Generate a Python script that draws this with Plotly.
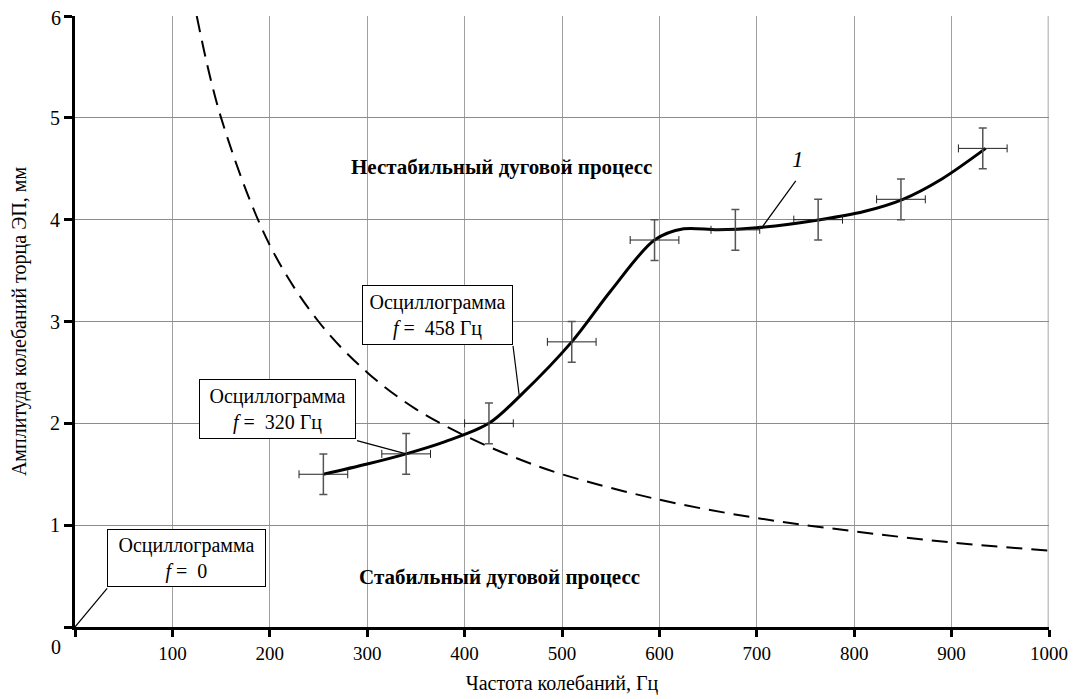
import plotly.graph_objects as go

# Experimental points (frequency, amplitude) with error bars
pt_x = [255, 340, 425, 510, 595, 678, 763, 848, 932]
pt_y = [1.5, 1.7, 2.0, 2.8, 3.8, 3.9, 4.0, 4.2, 4.7]
pt_err_y = [0.2, 0.2, 0.2, 0.2, 0.2, 0.2, 0.2, 0.2, 0.2]
pt_err_x = [25, 25, 25, 25, 25, 25, 25, 25, 25]

# Smooth experimental curve 1
curve_x = [255, 300, 340, 380, 425, 458, 510, 550, 595, 625, 660, 700, 765, 810, 850, 890, 935]
curve_y = [1.5, 1.6, 1.7, 1.82, 2.0, 2.28, 2.8, 3.3, 3.8, 3.91, 3.9, 3.92, 4.0, 4.08, 4.2, 4.4, 4.7]

# Stability boundary (dashed)
bound_x = [125, 150, 200, 250, 300, 350, 400, 450, 500, 600, 700, 800, 900, 1000]
bound_y = [6.0, 5.0, 3.75, 3.0, 2.5, 2.14, 1.88, 1.67, 1.5, 1.25, 1.07, 0.94, 0.83, 0.75]

x_ticks = [0, 100, 200, 300, 400, 500, 600, 700, 800, 900, 1000]
x_ticklabels = ["", "100", "200", "300", "400", "500", "600", "700", "800", "900", "1000"]
y_ticks = [0, 1, 2, 3, 4, 5, 6]
y_ticklabels = ["", "1", "2", "3", "4", "5", ""]

FONT = "Times New Roman, Liberation Serif, DejaVu Serif, serif"

fig = go.Figure()

fig.add_trace(go.Scatter(
    x=bound_x, y=bound_y, mode="lines",
    line=dict(color="black", width=2, dash="16px,9px", shape="spline", smoothing=1.0),
    hoverinfo="skip", showlegend=False))

fig.add_trace(go.Scatter(
    x=curve_x, y=curve_y, mode="lines",
    line=dict(color="black", width=3, shape="spline", smoothing=0.9),
    showlegend=False))

fig.add_trace(go.Scatter(
    x=pt_x, y=pt_y, mode="markers",
    marker=dict(size=1, color="rgba(0,0,0,0)"),
    error_y=dict(type="data", array=pt_err_y, color="#555555", thickness=1.5, width=4),
    error_x=dict(type="data", array=pt_err_x, color="#222222", thickness=1, width=4),
    showlegend=False))

box_style = dict(showarrow=False, bgcolor="white", bordercolor="black", borderwidth=1,
                 font=dict(family=FONT, size=20, color="black"), xref="x", yref="y")

annotations = [
    dict(x=114.5, y=0.675, text="Осциллограмма<br><i>f</i> =  0", width=155, height=54, **box_style),
    dict(x=207.5, y=2.145, text="Осциллограмма<br><i>f</i> =  320 Гц", width=153, height=56, **box_style),
    dict(x=372.5, y=3.065, text="Осциллограмма<br><i>f</i> =  458 Гц", width=147, height=56, **box_style),
    dict(x=438, y=4.52, text="<b>Нестабильный дуговой процесс</b>", showarrow=False,
         font=dict(family=FONT, size=21, color="black"), xref="x", yref="y"),
    dict(x=436, y=0.49, text="<b>Стабильный дуговой процесс</b>", showarrow=False,
         font=dict(family=FONT, size=21, color="black"), xref="x", yref="y"),
    dict(x=742, y=4.59, text="<i>1</i>", showarrow=False,
         font=dict(family=FONT, size=23, color="black"), xref="x", yref="y"),
    dict(x=-0.019, y=0, text="0", showarrow=False, xref="paper", yref="paper",
         xanchor="center", yanchor="middle", yshift=-20,
         font=dict(family=FONT, size=20, color="black")),
    dict(x=-0.019, y=1, text="6", showarrow=False, xref="paper", yref="paper",
         xanchor="center", yanchor="middle", yshift=-2,
         font=dict(family=FONT, size=20, color="black")),
]

# Leader lines from label boxes to curve
leaders = [
    (33, 0.38, 0, 0),
    (289.5, 1.83, 340, 1.7),
    (449.7, 2.76, 456, 2.28),
    (740, 4.38, 705, 3.92),
]
shapes = [dict(type="line", xref="x", yref="y", x0=a, y0=b, x1=c, y1=d,
               line=dict(color="black", width=1.2)) for a, b, c, d in leaders]
shapes.append(dict(type="line", xref="x", yref="paper", x0=1000, x1=1000, y0=0, y1=1,
                   line=dict(color="#c4c4c4", width=3), layer="below"))

fig.update_layout(
    width=1076, height=699,
    margin=dict(l=67, r=35, t=8, b=80),
    paper_bgcolor="white", plot_bgcolor="white",
    font=dict(family=FONT, size=20, color="black"),
    annotations=annotations,
    shapes=shapes,
    xaxis=dict(range=[0, 1000], tickvals=x_ticks, ticktext=x_ticklabels,
               showgrid=True, gridcolor="#a0a0a0", gridwidth=1,
               showline=True, linecolor="black", linewidth=3,
               ticks="outside", ticklen=7, tickwidth=3, tickcolor="black",
               zeroline=False, fixedrange=True, automargin=False,
               ticklabeloverflow="allow",
               tickfont=dict(family=FONT, size=19),
               title=dict(text="Частота колебаний, Гц", font=dict(family=FONT, size=20), standoff=14)),
    yaxis=dict(range=[0, 6], tickvals=y_ticks, ticktext=y_ticklabels,
               showgrid=True, gridcolor="#8c8c8c", gridwidth=1,
               showline=True, linecolor="black", linewidth=3,
               ticks="outside", ticklen=8, tickwidth=3, tickcolor="black",
               zeroline=False, fixedrange=True, automargin=False,
               ticklabeloverflow="allow",
               tickfont=dict(family=FONT, size=20),
               title=dict(text="Амплитуда колебаний торца ЭП, мм", font=dict(family=FONT, size=20), standoff=22)),
)

fig.write_html("out.html")
